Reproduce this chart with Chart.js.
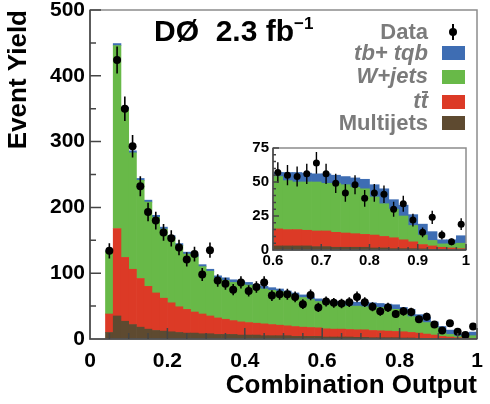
<!DOCTYPE html>
<html lang="en">
<head>
  <meta charset="UTF-8" />
  <title>Combination Output</title>
  <script src="https://cdn.jsdelivr.net/npm/chart.js"></script>
  <style>
    body { margin: 0; background: #fff; }
    #wrap { position: relative; width: 490px; height: 404px; font-family: "Liberation Sans", Arial, sans-serif; }
    #mainChart { position: absolute; left: 0; top: 0; }
    #insetChart { position: absolute; left: 230px; top: 140px; }
    .d0 { position: absolute; left: 154px; top: 14px; font-weight: bold; font-size: 30px; color: #000; white-space: nowrap; }
    .d0 sup { font-size: 17px; vertical-align: 12px; }
    .leg { position: absolute; right: 62px; font-weight: bold; font-size: 22px; color: #7b7b7b; white-space: nowrap; line-height: 22px; }
    .leg i { font-style: italic; }
    .bar { display: inline-block; position: relative; }
    .bar::before { content: ""; position: absolute; left: 1px; right: 0; top: 1px; border-top: 2px solid #7b7b7b; }
    .box { position: absolute; left: 442px; width: 23px; height: 14px; }
  </style>
</head>
<body>
<div id="wrap">
  <canvas id="mainChart" width="490" height="404"></canvas>
  <canvas id="insetChart" width="250" height="135"></canvas>
  <div class="d0">DØ&nbsp;&nbsp;2.3 fb<sup>−1</sup></div>
  <div class="leg" style="top:21px">Data</div>
  <div class="leg" style="top:42px"><i>tb+ tqb</i></div>
  <div class="leg" style="top:65px"><i>W+jets</i></div>
  <div class="leg" style="top:90px"><i>t<span class="bar">t</span></i></div>
  <div class="leg" style="top:112px">Multijets</div>
  <div class="box" style="top:46px;background:#3e6db3"></div>
  <div class="box" style="top:70px;background:#68b948"></div>
  <div class="box" style="top:95px;background:#dc3a26"></div>
  <div class="box" style="top:116px;background:#5e4a30"></div>
  <div style="position:absolute;left:452px;top:24px;width:2px;height:16px;background:#000"></div>
  <div style="position:absolute;left:449px;top:28px;width:8px;height:8px;border-radius:50%;background:#000"></div>
</div>

<script>
  // bin centres of the 0.02-wide histogram bins (0.04 .. 1.00)
  const binCenters = [0.05,0.07,0.09,0.11,0.13,0.15,0.17,0.19,0.21,0.23,0.25,0.27,0.29,0.31,0.33,0.35,
    0.37,0.39,0.41,0.43,0.45,0.47,0.49,0.51,0.53,0.55,0.57,0.59,0.61,0.63,0.65,0.67,0.69,0.71,0.73,0.75,
    0.77,0.79,0.81,0.83,0.85,0.87,0.89,0.91,0.93,0.95,0.97,0.99];

  const multijets = [10,35,27,22,18,15,13,12,11,10,9,9,8,8,7,7,7,6,6,6,5,5,5,5,4,4,4,4,3,3,3,3,
    2.5,2.5,2,2,2,2,1.5,1.5,1,1,1,0.8,0.5,0.5,0.3,0.3];
  const ttbar = [28,133,97,84,74,65,57,50,44,39,36,32,30,27,25,23,21,20,19,18,18,17,16,15,15,14,
    13.5,13,12.5,12,12,11.5,11.5,11.5,11,10.5,10,9.5,9.5,8.5,8,6.5,5,3.2,2.5,1.5,1.2,0.7];
  const wjets = [95,278,225,177,149,128,115,105,99,93,84,84,72,68,60,59,58,58,57,55,53,52,51,49,47,45,
    42.5,40,38.5,36,35,35.5,36,35,36,35.5,34,33.5,28,24,21,17.5,12,7,4,2.5,3,4];
  const singleTop = [1,3,3,3,3,3,3,3,3,3,3,3,3,3,4,4,4,4,4,4,4,4,4,4,4,4,4,4,3,6,7,6.5,6,7,6,6,7,7,
    9,11,7,8,8,8,6.5,3,3,5.5];
  const dataCounts = [134,424,350,293,232,193,180,162,153,139,121,129,98,135,89,84,75,86,73,79,86,66,68,68,
    64,53,67,48,57,55,54,56,64,56,49,42,48,38,42,41,30,34,22,13,24,11,6,19];

  const mainYTicks = [0,100,200,300,400,500];
  const insetYTicks = [0,25,50,75];

  const FONT = '"Liberation Sans", Arial, sans-serif';
  const fmt = v => String(+Number(v).toFixed(2));

  function histSet(label, values, color) {
    return {
      type: 'bar', label: label,
      data: binCenters.map((c, i) => ({ x: c, y: values[i] })),
      backgroundColor: color, borderWidth: 0,
      barPercentage: 1, categoryPercentage: 1, stack: 'mc', order: 1
    };
  }

  function makeDatasets(radius) {
    return [
      histSet('Multijets', multijets, '#5e4a30'),
      histSet('ttbar', ttbar, '#dc3a26'),
      histSet('W+jets', wjets, '#68b948'),
      histSet('tb+tqb', singleTop, '#3e6db3'),
      {
        type: 'scatter', label: 'Data', stack: 'data', order: 0,
        data: binCenters.map((c, i) => ({ x: c, y: dataCounts[i] })),
        pointRadius: radius, backgroundColor: '#000', borderWidth: 0
      }
    ];
  }

  // sqrt(N) error bars on the data points
  function errorBars(width) {
    return {
      id: 'errorBars',
      afterDatasetsDraw(chart) {
        const { ctx, chartArea: a, scales: { x, y } } = chart;
        ctx.save();
        ctx.beginPath();
        ctx.rect(a.left, a.top, a.right - a.left, a.bottom - a.top);
        ctx.clip();
        ctx.strokeStyle = '#000';
        ctx.lineWidth = width;
        ctx.beginPath();
        binCenters.forEach((c, i) => {
          const n = dataCounts[i], e = Math.sqrt(n);
          const px = x.getPixelForValue(c);
          ctx.moveTo(px, y.getPixelForValue(n - e));
          ctx.lineTo(px, y.getPixelForValue(n + e));
        });
        ctx.stroke();
        ctx.restore();
      }
    };
  }

  // grey frame plus inward tick marks
  function frame(cfg) {
    return {
      id: 'frame',
      afterDraw(chart) {
        const { ctx, chartArea: a, scales: { x, y } } = chart;
        ctx.save();
        ctx.lineWidth = 1.5;
        ctx.strokeStyle = '#8c8c8c';
        ctx.strokeRect(a.left, a.top, a.right - a.left, a.bottom - a.top);
        ctx.strokeStyle = '#444';
        ctx.beginPath();
        for (let k = 0; k <= cfg.yN; k++) {
          const py = y.getPixelForValue(y.min + k * cfg.yMinor);
          ctx.moveTo(a.left, py);
          ctx.lineTo(a.left + (k % cfg.yEvery === 0 ? cfg.major : cfg.minor), py);
        }
        for (let k = 0; k <= cfg.xN; k++) {
          const px = x.getPixelForValue(x.min + k * cfg.xMinor);
          ctx.moveTo(px, a.bottom);
          ctx.lineTo(px, a.bottom - (k % cfg.xEvery === 0 ? cfg.major : cfg.minor));
        }
        ctx.moveTo(a.left, a.top);
        ctx.lineTo(a.left, a.bottom);
        ctx.lineTo(a.right, a.bottom);
        ctx.stroke();
        ctx.restore();
      }
    };
  }

  const whiteArea = {
    id: 'whiteArea',
    beforeDraw(chart) {
      const { ctx, chartArea: a } = chart;
      ctx.save();
      ctx.fillStyle = '#fff';
      ctx.fillRect(a.left, a.top, a.right - a.left, a.bottom - a.top);
      ctx.restore();
    }
  };

  new Chart(document.getElementById('mainChart'), {
    type: 'bar',
    data: { datasets: makeDatasets(4) },
    options: {
      responsive: false, animation: false, events: [],
      layout: { padding: { top: 10, right: 13, left: 0, bottom: 0 } },
      plugins: { legend: { display: false }, tooltip: { enabled: false } },
      scales: {
        x: {
          type: 'linear', min: 0, max: 1, offset: false,
          grid: { display: false }, border: { display: false },
          ticks: { stepSize: 0.2, color: '#000', padding: 4, maxRotation: 0, callback: fmt,
                   font: { family: FONT, size: 21, weight: 'bold', lineHeight: 0.95 } },
          title: { display: true, text: 'Combination Output', align: 'end', color: '#000',
                   font: { family: FONT, size: 26, weight: 'bold' }, padding: { top: 0, bottom: 3 } },
          afterFit(scale) { scale.height = 65; }
        },
        y: {
          stacked: true, min: 0, max: 500,
          grid: { display: false, tickLength: 0 }, border: { display: false },
          afterBuildTicks(scale) { scale.ticks = mainYTicks.map(v => ({ value: v })); },
          ticks: { color: '#000', padding: 5, font: { family: FONT, size: 21, weight: 'bold', lineHeight: 0.45 } },
          title: { display: true, text: 'Event Yield', align: 'end', color: '#000',
                   font: { family: FONT, size: 26, weight: 'bold' }, padding: { top: 3, bottom: 0 } },
          afterFit(scale) { scale.width = 90; }
        }
      }
    },
    plugins: [errorBars(1.6), frame({ yMinor: 50, yN: 10, yEvery: 2, xMinor: 0.05, xN: 20, xEvery: 4, major: 11, minor: 6 })]
  });

  new Chart(document.getElementById('insetChart'), {
    type: 'bar',
    data: { datasets: makeDatasets(3.5) },
    options: {
      responsive: false, animation: false, events: [],
      layout: { padding: { top: 8, right: 14, left: 0, bottom: 0 } },
      plugins: { legend: { display: false }, tooltip: { enabled: false } },
      scales: {
        x: {
          type: 'linear', min: 0.6, max: 1, offset: false,
          grid: { display: false, tickLength: 0 }, border: { display: false },
          ticks: { stepSize: 0.1, color: '#000', padding: 3, maxRotation: 0, callback: fmt,
                   font: { family: FONT, size: 15, weight: 'bold', lineHeight: 1 } },
          afterFit(scale) { scale.height = 25; }
        },
        y: {
          stacked: true, min: 0, max: 75,
          grid: { display: false, tickLength: 0 }, border: { display: false },
          afterBuildTicks(scale) { scale.ticks = insetYTicks.map(v => ({ value: v })); },
          ticks: { color: '#000', padding: 4, font: { family: FONT, size: 15, weight: 'bold', lineHeight: 0.45 } },
          afterFit(scale) { scale.width = 43; }
        }
      }
    },
    plugins: [whiteArea, errorBars(1.4), frame({ yMinor: 5, yN: 15, yEvery: 5, xMinor: 0.02, xN: 20, xEvery: 5, major: 6, minor: 3 })]
  });
</script>
</body>
</html>
